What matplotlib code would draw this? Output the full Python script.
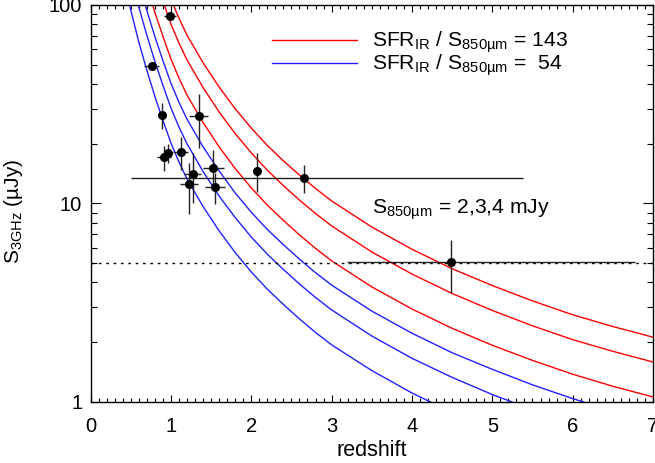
import matplotlib
matplotlib.use("Agg")
import matplotlib.pyplot as plt
from matplotlib.ticker import MultipleLocator, LogLocator, NullFormatter

plt.rcParams['font.family'] = ['Liberation Sans', 'DejaVu Sans']
plt.rcParams['mathtext.fontset'] = 'custom'
plt.rcParams['mathtext.rm'] = 'Liberation Sans'
plt.rcParams['mathtext.it'] = 'Liberation Sans:italic'
plt.rcParams['mathtext.bf'] = 'Liberation Sans:bold'

# model curves, S_3GHz in uJy vs redshift
z_mod = [0.4, 0.5, 0.6, 0.7, 0.8, 0.9, 1.0, 1.1, 1.2, 1.4, 1.6, 1.8, 2.0, 2.2,
         2.4, 2.6, 2.8, 3.0, 3.5, 4.0, 4.5, 5.0, 5.5, 6.0, 6.5, 7.0]
blue_2mjy = [141, 94.4, 65.3, 47.0, 34.7, 26.3, 20.2, 16.2, 13.3, 9.66, 7.28, 5.66, 4.52, 3.70,
             3.10, 2.62, 2.24, 1.94, 1.44, 1.11, 0.885, 0.728, 0.61, 0.52, 0.45, 0.40]
blue_3mjy = [212, 142, 98.0, 70.5, 52.1, 39.5, 30.3, 24.3, 20.0, 14.5, 10.9, 8.49, 6.78, 5.55,
             4.65, 3.93, 3.36, 2.91, 2.15, 1.66, 1.33, 1.09, 0.915, 0.78, 0.68, 0.60]
blue_4mjy = [283, 189, 131, 94.0, 69.4, 52.6, 40.4, 32.4, 26.6, 19.3, 14.6, 11.3, 9.04, 7.40,
             6.20, 5.24, 4.48, 3.88, 2.87, 2.22, 1.77, 1.46, 1.22, 1.04, 0.90, 0.80]
red_2mjy = [374, 250, 173, 125, 92.0, 69.7, 53.5, 42.9, 35.2, 25.6, 19.3, 15.0, 12.0, 9.81,
            8.22, 6.94, 5.94, 5.14, 3.80, 2.94, 2.35, 1.93, 1.62, 1.38, 1.20, 1.06]
red_3mjy = [562, 375, 260, 187, 138, 105, 80.3, 64.4, 52.9, 38.4, 28.9, 22.5, 18.0, 14.7,
            12.3, 10.4, 8.90, 7.71, 5.70, 4.41, 3.52, 2.89, 2.42, 2.06, 1.80, 1.59]
red_4mjy = [749, 500, 346, 249, 184, 139, 107, 85.9, 70.5, 51.2, 38.6, 30.0, 24.0, 19.6,
            16.4, 13.9, 11.9, 10.3, 7.61, 5.88, 4.69, 3.86, 3.23, 2.75, 2.40, 2.12]

# sources
z_src = [0.99, 0.76, 0.89, 1.345, 0.915, 0.96, 1.12, 1.53, 1.27, 1.225, 1.55, 2.075, 2.66, 4.48]
s_src = [88, 49.3, 27.8, 27.5, 17.2, 18.0, 18.1, 15.1, 14.0, 12.5, 12.1, 14.6, 13.5, 5.07]
s_low = [88, 49.3, 23.7, 19.1, 14.5, 15.9, 14.7, 12.2, 10.0, 8.9, 9.9, 11.4, 11.3, 3.55]
s_high = [88, 49.3, 32.0, 35.6, 19.5, 19.9, 21.5, 18.6, 18.0, 15.9, 14.2, 17.9, 15.6, 6.55]
z_err_lo = [0.075, 0.09, 0, 0.12, 0.09, 0, 0.09, 0.125, 0.11, 0.11, 0.125, 0, 2.16, 1.29]
z_err_hi = [0.075, 0.09, 0, 0.12, 0.09, 0, 0.09, 0.125, 0.11, 0.11, 0.125, 0, 2.72, 2.29]

s_limit = 5.0

fig = plt.figure(figsize=(6.55, 4.63), dpi=100)
ax = fig.add_axes([0.1382, 0.1318, 0.8588, 0.8575])

for c in [red_2mjy, red_3mjy, red_4mjy]:
    ax.plot(z_mod, c, color='#ff0000', lw=1.0)
for c in [blue_2mjy, blue_3mjy, blue_4mjy]:
    ax.plot(z_mod, c, color='#2020ff', lw=1.0)

ax.axhline(s_limit, color='k', lw=1.0, linestyle=(0, (1.9, 3.4)))

yerr = [[s - l for s, l in zip(s_src, s_low)], [h - s for s, h in zip(s_src, s_high)]]
ax.errorbar(z_src, s_src, xerr=[z_err_lo, z_err_hi], yerr=yerr, fmt='o', color='k',
            ms=5.5, ecolor='#222222', elinewidth=1.0, capsize=0, zorder=5)

ax.set_yscale('log')
ax.set_xlim(0, 7)
ax.set_ylim(1, 100)
ax.set_yticks([1, 10, 100], labels=['1', '10', '100'])
ax.yaxis.set_minor_locator(LogLocator(base=10, subs=range(2, 10)))
ax.yaxis.set_minor_formatter(NullFormatter())
ax.xaxis.set_major_locator(MultipleLocator(1))
ax.xaxis.set_minor_locator(MultipleLocator(0.1))

ax.tick_params(axis='both', which='both', direction='in', top=True, right=True,
               labelsize=14.5, width=0.8)
ax.tick_params(axis='x', which='major', length=5, pad=11)
ax.tick_params(axis='x', which='minor', length=2.6)
ax.tick_params(axis='y', which='major', length=7, pad=6)
ax.tick_params(axis='y', which='minor', length=4)
for s in ax.spines.values():
    s.set_linewidth(1.0)

ax.set_xlabel('redshift', fontsize=15.5, labelpad=3)
ax.set_ylabel('S$_{\\rm 3GHz}$ (µJy)', fontsize=15)
ax.yaxis.set_label_coords(-0.117, 0.48)

# legend drawn by hand
ax.plot([0.322, 0.474], [0.912, 0.912], color='#ff0000', lw=1.0, transform=ax.transAxes)
ax.plot([0.322, 0.474], [0.855, 0.855], color='#2020ff', lw=1.0, transform=ax.transAxes)
ax.text(0.5, 0.895, 'SFR$_{\\rm IR}$ / S$_{\\rm 850µm}$ = 143', fontsize=15.2,
        transform=ax.transAxes, va='baseline')
ax.text(0.5, 0.838, 'SFR$_{\\rm IR}$ / S$_{\\rm 850µm}$ =  54', fontsize=15.2,
        transform=ax.transAxes, va='baseline')
ax.text(0.5, 0.475, 'S$_{\\rm 850µm}$ = 2,3,4 mJy', fontsize=15.2,
        transform=ax.transAxes, va='baseline')

fig.savefig('out.png', dpi=100)
